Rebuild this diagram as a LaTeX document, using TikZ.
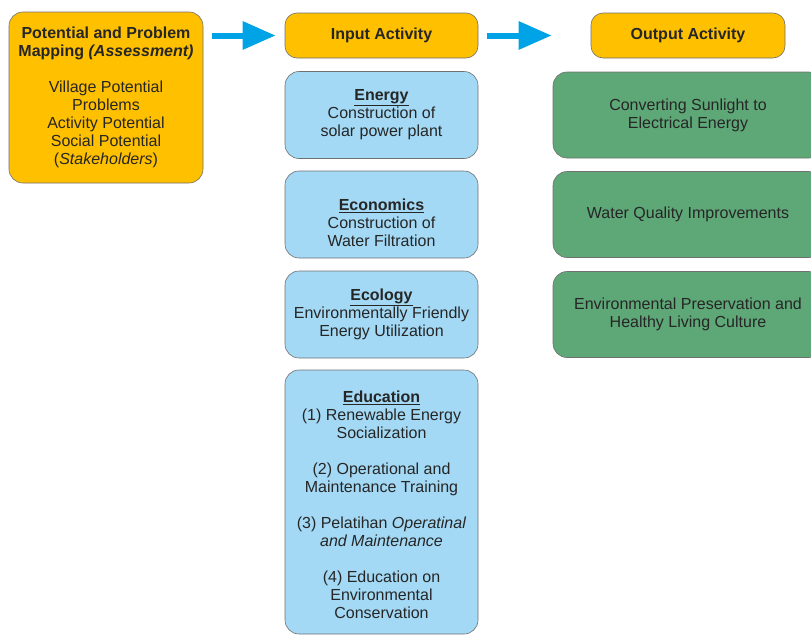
\documentclass[tikz,border=0pt]{standalone}
\usepackage{fontspec}
\setmainfont{Liberation Sans}
\usetikzlibrary{arrows.meta}
\definecolor{gold}{HTML}{FFC000}
\definecolor{skyfill}{HTML}{A3D9F5}
\definecolor{leaf}{HTML}{5EA777}
\definecolor{arrowblue}{HTML}{00A3E6}
\definecolor{ink}{HTML}{262626}
\definecolor{edge}{HTML}{707070}
\begin{document}
\begin{tikzpicture}[x=1pt,y=-1pt,
  every node/.style={font=\fontsize{16}{18}\selectfont, text=ink, align=center, inner sep=0pt},
  box/.style={draw=edge, line width=0.6pt, rounded corners=14pt},
  goldbox/.style={box, fill=gold},
  hdrbox/.style={goldbox, rounded corners=12pt, minimum width=193pt, minimum height=45pt},
  skybox/.style={box, fill=skyfill, minimum width=193pt, minimum height=87pt},
  leafbox/.style={box, fill=leaf, minimum width=270pt, minimum height=86pt},
  flow/.style={draw=arrowblue, line width=6pt, -{Triangle[length=33pt,width=27pt]}, shorten <=9pt}
]
\useasboundingbox (0,0) rectangle (811,635);
\clip (0,0) rectangle (811,635);

% assessment stage
\node[goldbox, minimum width=194pt, minimum height=171pt] (assess) at (106,97.5)
  {\textbf{Potential and Problem}\\\textbf{Mapping \textit{(Assessment)}}\\[18pt]
   Village Potential\\Problems\\Activity Potential\\Social Potential\\(\textit{Stakeholders})};

% column headers
\node[hdrbox] (inhdr) at (381.5,35.5) {\textbf{Input Activity}};
\node[hdrbox, minimum width=194pt] (outhdr) at (688,35.5) {\textbf{Output Activity}};

% input activities
\node[skybox] (energy) at (381.5,115)
  {\textbf{\underline{Energy}}\\Construction of\\solar power plant};
\node[skybox] (econ) at (381.5,214.5) {};
\node (econtext) at ([yshift=-8pt]econ.center)
  {\textbf{\underline{Economics}}\\Construction of\\Water Filtration};
\node[skybox] (ecol) at (381.5,314.5)
  {\textbf{\underline{Ecology}}\\Environmentally Friendly\\Energy Utilization};
\node[skybox, minimum height=264pt] (educ) at (381.5,502) {};
\node (eductext) at ([yshift=-3pt]educ.center)
  {\textbf{\underline{Education}}\\(1) Renewable Energy\\Socialization\\[18pt]
   (2) Operational and\\Maintenance Training\\[18pt]
   (3) Pelatihan \textit{Operatinal}\\\textit{and Maintenance}\\[18pt]
   (4) Education on\\Environmental\\Conservation};

% output activities
\node[leafbox] (sun) at (688,115) {Converting Sunlight to\\Electrical Energy};
\node[leafbox] (water) at (688,214.5) {Water Quality Improvements};
\node[leafbox] (env) at (688,314.5) {Environmental Preservation and\\Healthy Living Culture};

% flow arrows
\draw[flow, shorten >=9pt] (assess.east |- inhdr.west) -- (inhdr.west);
\draw[flow, shorten >=39pt] (inhdr.east) -- (outhdr.west);
\end{tikzpicture}
\end{document}
